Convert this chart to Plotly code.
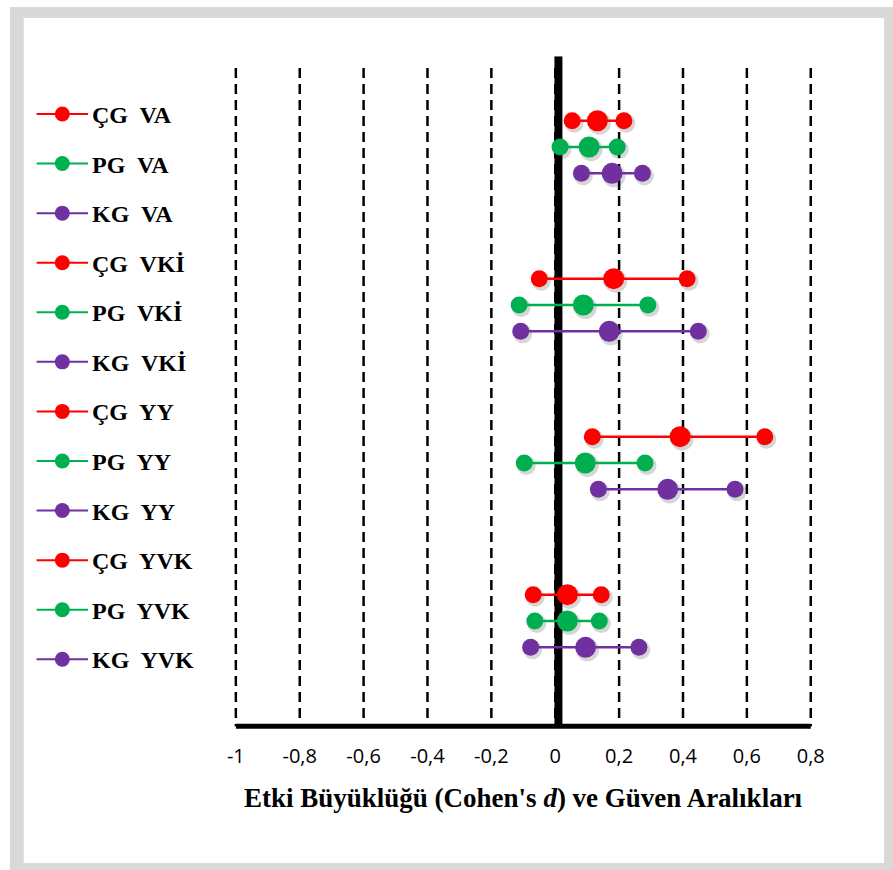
import plotly.graph_objects as go

# ---------------- data ----------------
measures = ["VA", "VKİ", "YY", "YVK"]
groups = ["ÇG", "PG", "KG"]
colors = ["#FF0000", "#00B050", "#7030A0"]

d_CG = [0.132, 0.183, 0.391, 0.038]
lo_CG = [0.053, -0.050, 0.116, -0.069]
hi_CG = [0.215, 0.413, 0.656, 0.144]

d_PG = [0.106, 0.088, 0.094, 0.038]
lo_PG = [0.015, -0.113, -0.097, -0.064]
hi_PG = [0.194, 0.290, 0.281, 0.138]

d_KG = [0.178, 0.169, 0.352, 0.095]
lo_KG = [0.082, -0.108, 0.135, -0.077]
hi_KG = [0.273, 0.448, 0.563, 0.262]

tick_vals = [-1, -0.8, -0.6, -0.4, -0.2, 0, 0.2, 0.4, 0.6, 0.8]
tick_text = ["-1", "-0,8", "-0,6", "-0,4", "-0,2", "0", "0,2", "0,4", "0,6", "0,8"]
x_title = "<b>Etki Büyüklüğü (Cohen's <i>d</i>) ve Güven Aralıkları</b>"

est = [d_CG, d_PG, d_KG]
low = [lo_CG, lo_PG, lo_KG]
high = [hi_CG, hi_PG, hi_KG]

# ---------------- layout geometry (pixels) ----------------
W, H = 893, 870
XR = [-1.02, 0.82]
YR = [23.2, -2.45]
px_per_x = 323.0
px_per_slot = 26.33
x0_px = 236.5
x_left_px = x0_px + (XR[0] + 1) * px_per_x
x_right_px = x0_px + (XR[1] + 1) * px_per_x
y_top_px = 120.7 + YR[1] * px_per_slot
y_bot_px = 120.7 + YR[0] * px_per_slot

fig = go.Figure()

# shadows + CI lines + markers
sdx = 2.0 / px_per_x
sdy = 2.5 / px_per_slot
for gi, g in enumerate(groups):
    xs, ys, sz = [], [], []
    for mi, m in enumerate(measures):
        slot = mi * 6 + gi
        xs += [low[gi][mi], est[gi][mi], high[gi][mi], None]
        ys += [slot, slot, slot, None]
        sz += [17, 21, 17, 0]
    fig.add_trace(go.Scatter(
        x=[v + sdx if v is not None else None for v in xs],
        y=[v + sdy if v is not None else None for v in ys],
        mode="markers",
        marker=dict(size=[s + 2 for s in sz], color="rgba(0,0,0,0.16)", opacity=1, line=dict(width=0)),
        hoverinfo="skip", showlegend=False, cliponaxis=False))
    fig.add_trace(go.Scatter(
        x=xs, y=ys, mode="lines+markers", name=g,
        line=dict(color=colors[gi], width=2.5),
        marker=dict(size=sz, color=colors[gi], opacity=1, line=dict(width=0)),
        showlegend=False, cliponaxis=False, connectgaps=False))

# custom legend in pixel space (x2/y2)
leg_top = 114.0
leg_step = 49.57
labels = []
for mi, m in enumerate(measures):
    for gi, g in enumerate(groups):
        labels.append((gi, f"{g}  {m}"))
for i, (gi, lab) in enumerate(labels):
    yy = leg_top + i * leg_step
    fig.add_trace(go.Scatter(
        x=[35, 61, 87], y=[yy, yy, yy], xaxis="x2", yaxis="y2",
        mode="lines+markers",
        line=dict(color=colors[gi], width=2),
        marker=dict(size=[0, 15, 0], color=colors[gi], opacity=1, line=dict(width=0)),
        showlegend=False, hoverinfo="skip", cliponaxis=False))
    fig.add_annotation(x=89, y=yy + 1, xref="x2", yref="y2", text=lab,
                       showarrow=False, xanchor="left", yanchor="middle",
                       font=dict(family="Liberation Serif", size=24, color="black", weight="bold"))

shapes = []
# gray frame
shapes.append(dict(type="rect", xref="paper", yref="paper", x0=8 / W, x1=1.02, y0=-0.02, y1=1 - 7 / H,
                   fillcolor="#D9D9D9", line=dict(width=0), layer="below"))
shapes.append(dict(type="rect", xref="paper", yref="paper", x0=22 / W, x1=892 / W, y0=1 - 863 / H, y1=1 - 18 / H,
                   fillcolor="white", line=dict(width=0), layer="below"))
# dashed verticals
for tv in tick_vals:
    shapes.append(dict(type="line", xref="x", yref="y", x0=tv, x1=tv, y0=-2.0, y1=23,
                       line=dict(color="black", width=2.5, dash="10px,6px"), layer="below"))
# thick zero line
shapes.append(dict(type="line", xref="x", yref="y", x0=0.01, x1=0.01, y0=YR[1], y1=23,
                   line=dict(color="black", width=8), layer="below"))
# bottom axis line
shapes.append(dict(type="line", xref="x", yref="y", x0=tick_vals[0], x1=tick_vals[-1], y0=23, y1=23,
                   line=dict(color="black", width=5), layer="below"))

fig.add_annotation(x=527 / W, y=1 - 798 / H, xref="paper", yref="paper", text=x_title,
                   showarrow=False, xanchor="center", yanchor="middle",
                   font=dict(family="Liberation Serif", size=27, color="black"))

fig.update_layout(
    width=W, height=H, autosize=False,
    margin=dict(l=0, r=0, t=0, b=0, pad=0),
    paper_bgcolor="white", plot_bgcolor="rgba(0,0,0,0)",
    shapes=shapes, showlegend=False,
    xaxis=dict(domain=[x_left_px / W, x_right_px / W], range=XR, tickvals=tick_vals, ticktext=tick_text,
               ticks="", showgrid=False, zeroline=False, showline=False,
               tickfont=dict(family="Open Sans", size=20, color="black"), ticklabelstandoff=10,
               fixedrange=True),
    yaxis=dict(domain=[1 - y_bot_px / H, 1 - y_top_px / H], range=YR, showticklabels=False,
               showgrid=False, zeroline=False, showline=False, fixedrange=True),
    xaxis2=dict(domain=[0, 1], range=[0, W], visible=False, anchor="y2", fixedrange=True),
    yaxis2=dict(domain=[0, 1], range=[H, 0], visible=False, anchor="x2", fixedrange=True),
)

fig.write_html("out.html", config={"displayModeBar": False, "responsive": False},
               post_script="document.body.style.margin='0';document.body.style.overflow='hidden';")
